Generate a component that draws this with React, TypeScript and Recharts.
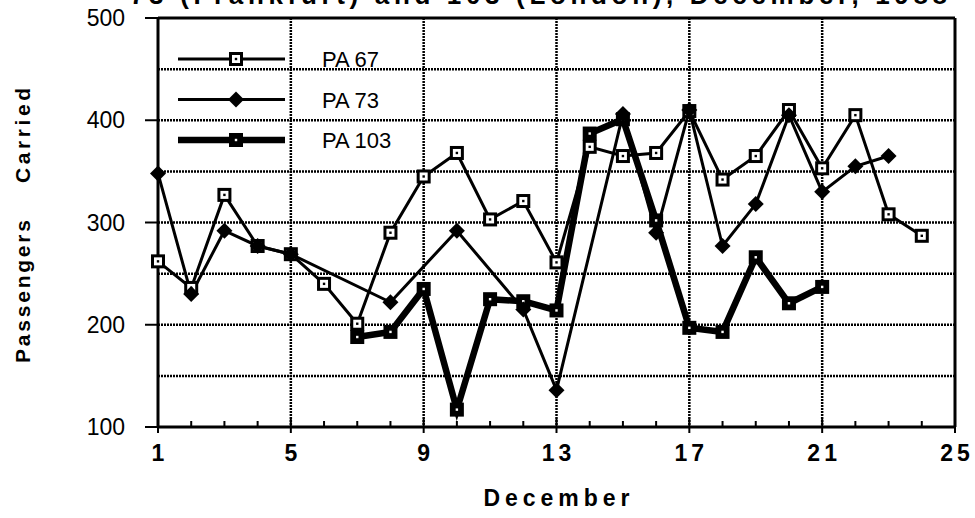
import { LineChart, Line, XAxis, YAxis, CartesianGrid, ReferenceLine, Legend, Label } from "recharts";

const days = [1, 2, 3, 4, 5, 6, 7, 8, 9, 10, 11, 12, 13, 14, 15, 16, 17, 18, 19, 20, 21, 22, 23, 24, 25];
const pa67 = [262, 236, 327, 277, 269, 240, 201, 290, 345, 368, 303, 321, 261, 374, 365, 368, 409, 342, 365, 410, 353, 405, 308, 287, null];
const pa73 = [348, 230, 292, 277, 269, null, null, 222, null, 292, null, 215, 136, null, 406, 290, 410, 277, 318, 405, 330, 355, 365, null, null];
const pa103 = [null, null, null, null, null, null, 188, 193, 235, 117, 225, 223, 214, 387, 401, 302, 197, 193, 266, 221, 237, null, null, null, null];

const xLabels = [1, 5, 9, 13, 17, 21, 25];
const yTicks = [100, 200, 300, 400, 500];
const hGrid = [150, 200, 250, 300, 350, 400, 450];
const vGrid = [5, 9, 13, 17, 21];

const data = days.map((day, i) => ({ day, pa67: pa67[i], pa73: pa73[i], pa103: pa103[i] }));

const FONT = "'Liberation Sans', Arial, Helvetica, sans-serif";

function OpenSquare({ cx, cy }: { cx: number; cy: number }) {
  return (
    <g>
      <rect x={cx - 5.5} y={cy - 5.5} width={11} height={11} fill="#fff" stroke="#000" strokeWidth={3} />
      <rect x={cx - 1.2} y={cy - 1.2} width={2.4} height={2.4} fill="#000" />
    </g>
  );
}

function Diamond({ cx, cy }: { cx: number; cy: number }) {
  return <polygon points={`${cx},${cy - 8} ${cx + 8},${cy} ${cx},${cy + 8} ${cx - 8},${cy}`} fill="#000" />;
}

function FilledSquare({ cx, cy }: { cx: number; cy: number }) {
  return (
    <g>
      <rect x={cx - 7} y={cy - 7} width={14} height={14} fill="#000" />
      <rect x={cx - 1.2} y={cy - 1.2} width={2.4} height={2.4} fill="#fff" />
    </g>
  );
}

const makeDot = (Shape: any, name: string) => (p: any) => {
  const k = `${name}-${p.index}`;
  if (p.cx == null || p.cy == null || p.value == null) return <g key={k} />;
  return (
    <g key={k}>
      <Shape cx={p.cx} cy={p.cy} />
    </g>
  );
};

const XTick = (props: any) => {
  const { x, y, payload } = props;
  const major = xLabels.includes(payload.value);
  return (
    <g>
      <line x1={x} x2={x} y1={y - (major ? 8 : 6)} y2={y + (major ? 6 : 0)} stroke="#000" strokeWidth={2} />
      {major && (
        <text x={x + 2} y={y + 34} textAnchor="middle" fontSize={23} fontWeight="bold" fontFamily={FONT} fill="#000" letterSpacing={4}>
          {payload.value}
        </text>
      )}
    </g>
  );
};

const legendItems = [
  { name: "PA 67", Shape: OpenSquare, width: 3 },
  { name: "PA 73", Shape: Diamond, width: 3 },
  { name: "PA 103", Shape: FilledSquare, width: 6.5 },
];

const renderLegend = () => (
  <svg width={260} height={120}>
    {legendItems.map((it, i) => {
      const y = 19 + i * 40.5;
      return (
        <g key={it.name}>
          <line x1={8} x2={115} y1={y} y2={y} stroke="#000" strokeWidth={it.width} />
          <it.Shape cx={66} cy={y} />
          <text x={152} y={y + 8} fontSize={22} fontFamily={FONT} fill="#000">
            {it.name}
          </text>
        </g>
      );
    })}
  </svg>
);

export default function App() {
  return (
    <div style={{ position: "absolute", left: 0, top: 0, width: 975, height: 518, background: "#fff" }}>
      <LineChart width={975} height={518} data={data} margin={{ top: 18, right: 20, bottom: 0, left: 0 }}>
        <CartesianGrid
          horizontalValues={hGrid}
          verticalValues={vGrid}
          stroke="#000"
          strokeWidth={2.5}
          strokeDasharray="2 1"
        />
        <XAxis
          dataKey="day"
          type="number"
          domain={[1, 25]}
          ticks={days}
          interval={0}
          tickSize={0}
          tickMargin={0}
          tickLine={false}
          axisLine={{ stroke: "#000", strokeWidth: 3 }}
          tick={XTick}
          height={91}
        >
          <Label
            content={(p: any) => {
              const vb = p.viewBox;
              return (
                <text x={vb.x + vb.width / 2} y={506} textAnchor="middle" fontSize={23} fontWeight="bold" fontFamily={FONT} fill="#000" textLength={146} lengthAdjust="spacing">
                  December
                </text>
              );
            }}
          />
        </XAxis>
        <YAxis
          type="number"
          domain={[100, 500]}
          ticks={yTicks}
          interval={0}
          width={158}
          tickSize={13}
          tickMargin={20}
          axisLine={{ stroke: "#000", strokeWidth: 3 }}
          tickLine={{ stroke: "#000", strokeWidth: 2 }}
          tick={{ fill: "#000", fontSize: 23, fontFamily: FONT }}
        >
          <Label
            content={() => (
              <g>
                <text x={30} y={291.5} transform="rotate(-90, 30, 291.5)" textAnchor="middle" fontSize={21} fontWeight="bold" fontFamily={FONT} fill="#000" textLength={143} lengthAdjust="spacing">
                  Passengers
                </text>
                <text x={30} y={135.5} transform="rotate(-90, 30, 135.5)" textAnchor="middle" fontSize={21} fontWeight="bold" fontFamily={FONT} fill="#000" textLength={95} lengthAdjust="spacing">
                  Carried
                </text>
                <text x={130} y={4} fontSize={26} fontWeight="bold" fontFamily={FONT} fill="#000" textLength={817} lengthAdjust="spacing">
                  73 (Frankfurt) and 103 (London), December, 1988
                </text>
              </g>
            )}
          />
        </YAxis>
        <ReferenceLine y={500} stroke="#000" strokeWidth={3} />
        <ReferenceLine x={25} stroke="#000" strokeWidth={3} />
        <Legend
          layout="vertical"
          align="center"
          verticalAlign="middle"
          wrapperStyle={{ left: 170, top: 40, width: 260, height: 120 }}
          content={renderLegend}
        />
        <Line
          dataKey="pa103"
          name="PA 103"
          stroke="#000"
          strokeWidth={6.5}
          connectNulls
          isAnimationActive={false}
          dot={makeDot(FilledSquare, "c")}
          activeDot={false}
        />
        <Line
          dataKey="pa67"
          name="PA 67"
          stroke="#000"
          strokeWidth={3}
          connectNulls
          isAnimationActive={false}
          dot={makeDot(OpenSquare, "a")}
          activeDot={false}
        />
        <Line
          dataKey="pa73"
          name="PA 73"
          stroke="#000"
          strokeWidth={3}
          connectNulls
          isAnimationActive={false}
          dot={makeDot(Diamond, "b")}
          activeDot={false}
        />
      </LineChart>
    </div>
  );
}
